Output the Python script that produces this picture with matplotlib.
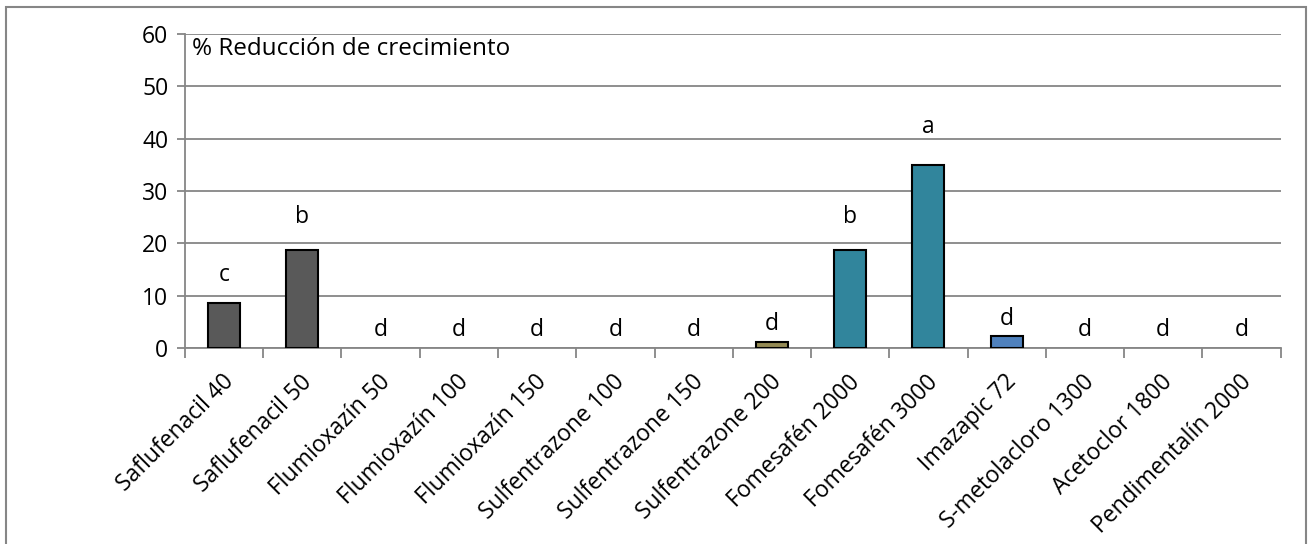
import numpy as np
import matplotlib.pyplot as plt
from matplotlib.patches import Rectangle

plt.rcParams['font.family'] = ['Open Sans', 'DejaVu Sans']

tratamientos = ['Saflufenacil 40', 'Saflufenacil 50', 'Flumioxazín 50', 'Flumioxazín 100',
                'Flumioxazín 150', 'Sulfentrazone 100', 'Sulfentrazone 150', 'Sulfentrazone 200',
                'Fomesafén 2000', 'Fomesafén 3000', 'Imazapic 72', 'S-metolacloro 1300',
                'Acetoclor 1800', 'Pendimentalín 2000']
reduccion = [8.6, 18.7, 0, 0, 0, 0, 0, 1.1, 18.7, 35.0, 2.3, 0, 0, 0]
letras = ['c', 'b', 'd', 'd', 'd', 'd', 'd', 'd', 'b', 'a', 'd', 'd', 'd', 'd']
# linea base de cada letra (en unidades del eje y)
letra_y = [12.8, 23.9, 2.3, 2.3, 2.3, 2.3, 2.3, 3.4, 23.9, 41.1, 4.4, 2.3, 2.3, 2.3]
colores = ['#595959', '#595959', '#595959', '#595959', '#595959', '#948A54', '#948A54',
           '#948A54', '#31859C', '#31859C', '#4F81BD', '#4F81BD', '#4F81BD', '#4F81BD']

FS = 16.5

fig = plt.figure(figsize=(13.12, 5.44), dpi=100)
ax = fig.add_axes([0.141, 0.360, 0.835, 0.5775])

# borde exterior del gráfico
fig.patches.append(Rectangle((6 / 1312, -0.1), 1300 / 1312, 1.1 - 7 / 544,
                             transform=fig.transFigure, fill=False,
                             edgecolor='#868686', linewidth=1.5))

x = np.arange(len(tratamientos))
for i in range(len(x)):
    if reduccion[i] > 0:
        ax.bar(x[i], reduccion[i], width=0.41, color=colores[i],
               edgecolor='black', linewidth=1.5, zorder=3)
    ax.text(x[i], letra_y[i], letras[i], ha='center', va='baseline', fontsize=FS)

ax.set_xlim(-0.5, len(x) - 0.5)
ax.set_ylim(0, 60)
ax.set_yticks(range(0, 61, 10))
ax.set_yticklabels([str(v) for v in range(0, 61, 10)], fontsize=FS)
ax.yaxis.grid(True, color='#868686', linewidth=1.3)
ax.set_axisbelow(True)

ax.set_xticks(np.arange(-0.5, len(x), 1.0))
ax.set_xticklabels([])
ax.tick_params(axis='x', length=7, color='#868686', width=1.3, direction='out')
ax.tick_params(axis='y', length=6, color='#868686', width=1.3, pad=6)
for i, t in enumerate(tratamientos):
    ax.text(x[i] - 0.03, -4.2, t, rotation=45, ha='right', va='top',
            rotation_mode='anchor', fontsize=FS)

for s in ['top', 'right']:
    ax.spines[s].set_visible(False)
for s in ['left', 'bottom']:
    ax.spines[s].set_color('#868686')
    ax.spines[s].set_linewidth(1.3)

ax.text(0.006, 0.992, '% Reducción de crecimiento', transform=ax.transAxes,
        ha='left', va='top', fontsize=17.5)

fig.savefig('out.png', dpi=100)
